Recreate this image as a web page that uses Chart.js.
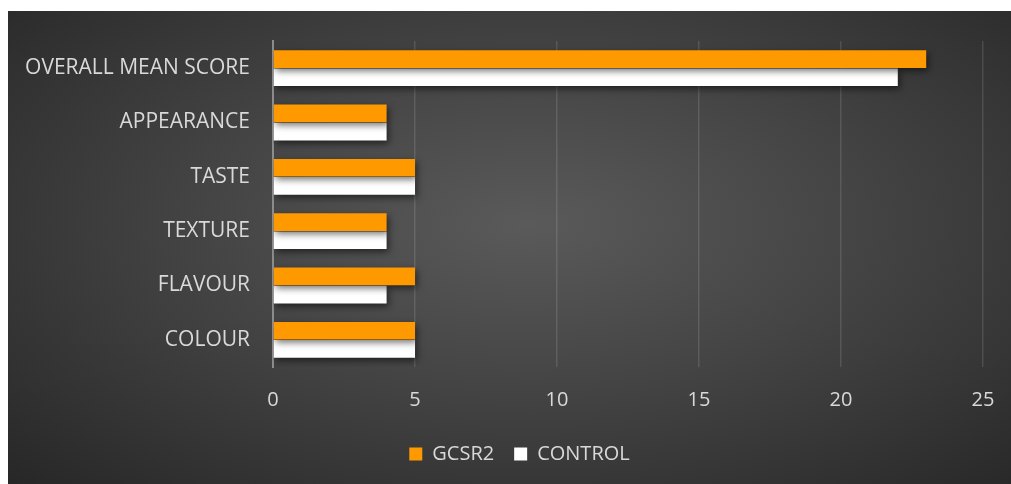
<!DOCTYPE html>
<html>
<head>
<meta charset="utf-8">
<script src="https://cdn.jsdelivr.net/npm/chart.js@4"></script>
<style>
  html, body { margin: 0; padding: 0; background: #fff; }
  #wrap {
    position: absolute; left: 8px; top: 11px; width: 1003px; height: 473px;
    background: radial-gradient(ellipse at 52% 45%, #5a5a5a 0%, #444 45%, #272727 100%);
  }
</style>
</head>
<body>
<div id="wrap"><canvas id="scores"></canvas></div>
<script>
const categories = ["OVERALL MEAN SCORE", "APPEARANCE", "TASTE", "TEXTURE", "FLAVOUR", "COLOUR"];
const gcsr2 = [23, 4, 5, 4, 5, 5];
const control = [22, 4, 5, 4, 4, 5];

/* shadow under the bars */
const barShadow = {
  id: "barShadow",
  beforeDatasetsDraw(chart) {
    const ctx = chart.ctx;
    ctx.save();
    ctx.shadowColor = "rgba(0,0,0,0.55)";
    ctx.shadowBlur = 7;
    ctx.shadowOffsetX = 2;
    ctx.shadowOffsetY = 3;
  },
  afterDatasetsDraw(chart) {
    chart.ctx.restore();
  },
};

/* legend sits a bit right of the canvas centre */
const legendShift = {
  id: "legendShift",
  afterLayout(chart) {
    chart.legend.left += 24;
    chart.legend.right += 24;
  },
};

const txt = "#d9d9d9";
const font = { family: "'Open Sans', sans-serif", size: 20 };

new Chart(document.getElementById("scores"), {
  type: "bar",
  data: {
    labels: categories,
    datasets: [
      { label: "GCSR2", data: gcsr2, backgroundColor: "#ff9900", borderWidth: 0 },
      { label: "CONTROL", data: control, backgroundColor: "#ffffff", borderWidth: 0 },
    ],
  },
  options: {
    indexAxis: "y",
    responsive: true,
    maintainAspectRatio: false,
    animation: false,
    categoryPercentage: 0.67,
    barPercentage: 0.97,
    layout: { padding: { left: 0, right: 28, top: 30, bottom: 10 } },
    plugins: {
      legend: {
        position: "bottom",
        labels: { color: txt, font: font, boxWidth: 13, boxHeight: 13, padding: 20 },
      },
      tooltip: { enabled: false },
    },
    scales: {
      x: {
        min: 0,
        max: 25,
        ticks: { stepSize: 5, color: txt, font: font, padding: 21 },
        grid: { color: "rgba(255,255,255,0.12)", lineWidth: 1.5, drawTicks: false },
        border: { display: false },
        afterFit: (s) => { s.height = 57; s.paddingLeft = 0; s.paddingRight = 0; },
      },
      y: {
        ticks: { color: txt, font: { family: font.family, size: 21 }, padding: 23 },
        grid: { display: false, drawTicks: false },
        border: { color: "#8c8c8c", width: 2 },
        afterFit: (s) => { s.width = 265; s.paddingTop = 0; s.paddingBottom = 0; },
      },
    },
  },
  plugins: [barShadow, legendShift],
});
</script>
</body>
</html>
